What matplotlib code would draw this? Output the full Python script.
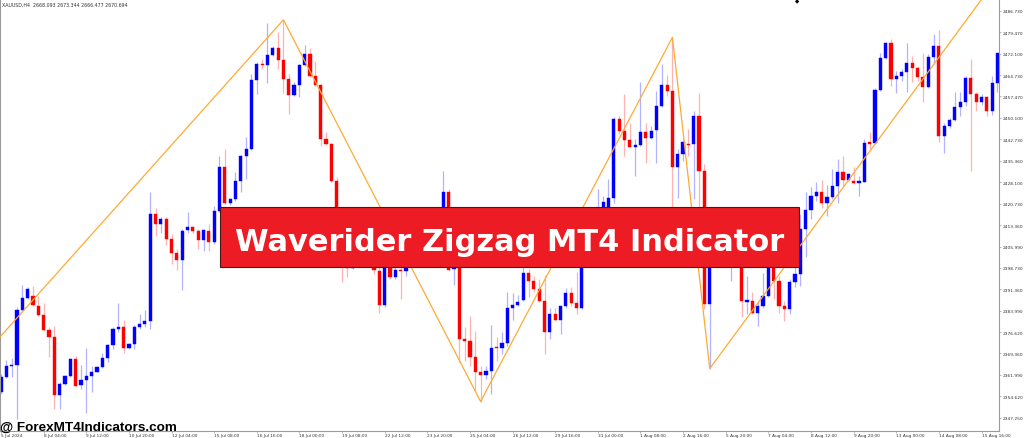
import matplotlib
matplotlib.use("Agg")
import matplotlib.pyplot as plt
from matplotlib.patches import Rectangle

# XAUUSD H4 candles
opens = [2356.2, 2361.4, 2364.9, 2365.4, 2384.3, 2388.3, 2389.0, 2385.8, 2382.4, 2377.5,
         2374.9, 2355.1, 2358.9, 2361.5, 2367.4, 2358.5, 2360.2, 2361.7, 2363.1, 2364.6,
         2367.7, 2372.2, 2377.7, 2378.3, 2371.3, 2372.5, 2378.4, 2379.5, 2380.5, 2417.1,
         2413.9, 2415.6, 2408.6, 2403.8, 2401.5, 2411.6, 2412.6, 2411.2, 2408.3, 2411.4,
         2407.6, 2418.1, 2433.1, 2420.9, 2422.3, 2428.3, 2436.9, 2439.4, 2463.1, 2468.5,
         2468.3, 2471.7, 2474.1, 2470.0, 2463.4, 2458.0, 2461.3, 2468.2, 2472.0, 2464.5,
         2461.3, 2442.8, 2441.1, 2428.5, 2412.0, 2401.0, 2398.7, 2405.1, 2402.4, 2406.8,
         2403.4, 2397.7, 2385.9, 2399.4, 2395.4, 2398.0, 2397.7, 2399.6, 2403.4, 2401.0,
         2405.1, 2402.4, 2406.8, 2412.0, 2424.8, 2398.3, 2398.9, 2374.3, 2373.7, 2368.0,
         2362.9, 2362.0, 2363.4, 2371.4, 2371.1, 2372.9, 2384.8, 2385.9, 2387.6, 2396.8,
         2394.3, 2391.4, 2387.4, 2376.6, 2382.9, 2380.9, 2385.5, 2390.0, 2386.6, 2384.8,
         2414.7, 2417.5, 2415.4, 2419.2, 2417.1, 2422.8, 2449.7, 2445.7, 2442.6, 2440.2,
         2440.8, 2445.1, 2443.1, 2445.9, 2454.2, 2461.3, 2459.2, 2433.1, 2437.7, 2441.1,
         2441.1, 2450.8, 2432.0, 2386.3, 2402.4, 2401.0, 2405.1, 2402.4, 2406.8, 2403.4,
         2387.1, 2387.4, 2383.4, 2385.5, 2389.1, 2401.0, 2394.3, 2385.5, 2384.6, 2393.9,
         2396.6, 2412.0, 2418.6, 2423.4, 2424.6, 2420.9, 2422.9, 2426.6, 2431.4, 2428.9,
         2428.3, 2427.7, 2428.2, 2441.7, 2441.5, 2459.7, 2470.5, 2475.7, 2463.4, 2464.3,
         2465.9, 2468.8, 2467.1, 2464.1, 2460.7, 2470.8, 2474.8, 2444.0, 2447.2, 2449.4,
         2453.7, 2455.7, 2463.6, 2458.3, 2455.6, 2457.3, 2452.3, 2462.0]
highs = [2362.3, 2367.1, 2367.7, 2385.2, 2392.8, 2392.1, 2392.4, 2389.1, 2386.6, 2378.5,
         2378.8, 2359.5, 2361.9, 2367.8, 2368.4, 2365.4, 2371.2, 2365.1, 2365.1, 2369.5,
         2372.6, 2378.3, 2386.6, 2380.9, 2372.9, 2379.1, 2382.9, 2384.3, 2424.6, 2419.1,
         2416.0, 2416.0, 2410.3, 2405.1, 2412.0, 2418.0, 2413.1, 2412.0, 2412.0, 2413.6,
         2420.0, 2437.1, 2439.6, 2422.8, 2431.4, 2437.3, 2443.4, 2465.1, 2469.1, 2470.2,
         2482.6, 2474.8, 2479.4, 2483.7, 2465.1, 2462.3, 2468.5, 2475.0, 2473.9, 2469.7,
         2461.7, 2445.3, 2441.5, 2429.7, 2417.1, 2405.1, 2406.8, 2408.6, 2408.6, 2410.3,
         2405.8, 2400.0, 2401.0, 2403.4, 2401.0, 2403.4, 2403.4, 2406.8, 2408.6, 2406.8,
         2409.2, 2408.6, 2413.7, 2432.0, 2425.7, 2401.7, 2401.0, 2378.3, 2382.3, 2377.1,
         2365.1, 2365.1, 2379.1, 2374.9, 2376.6, 2390.5, 2390.0, 2389.4, 2400.0, 2398.3,
         2396.0, 2394.8, 2396.2, 2385.1, 2384.8, 2385.7, 2391.7, 2392.3, 2397.3, 2418.1,
         2418.5, 2418.8, 2425.7, 2423.4, 2429.1, 2450.3, 2450.8, 2458.2, 2448.5, 2442.8,
         2462.3, 2448.5, 2447.4, 2459.4, 2468.5, 2464.8, 2477.7, 2439.4, 2442.8, 2446.2,
         2452.5, 2458.5, 2434.3, 2403.4, 2406.8, 2408.6, 2407.2, 2408.6, 2410.3, 2405.1,
         2395.9, 2390.3, 2387.3, 2397.1, 2403.4, 2402.4, 2396.0, 2387.4, 2394.8, 2399.4,
         2417.1, 2424.6, 2426.3, 2428.0, 2428.9, 2427.1, 2432.5, 2436.0, 2437.1, 2431.2,
         2433.1, 2430.2, 2442.8, 2445.1, 2460.5, 2472.5, 2476.2, 2477.1, 2466.2, 2466.8,
         2475.7, 2471.4, 2468.0, 2472.5, 2472.0, 2478.8, 2480.2, 2448.5, 2449.9, 2458.8,
         2458.8, 2464.5, 2470.2, 2458.8, 2458.2, 2457.7, 2464.5, 2472.5]
lows = [2355.4, 2360.9, 2361.4, 2346.9, 2383.9, 2388.0, 2385.6, 2382.2, 2377.0, 2368.0,
        2350.5, 2350.5, 2358.5, 2361.2, 2358.1, 2357.1, 2348.9, 2356.0, 2362.9, 2364.3,
        2366.4, 2370.9, 2376.7, 2369.4, 2371.0, 2370.9, 2377.7, 2378.3, 2377.7, 2409.5,
        2410.8, 2406.5, 2400.0, 2398.0, 2391.2, 2410.8, 2410.8, 2405.1, 2404.5, 2404.5,
        2406.8, 2417.7, 2420.5, 2420.2, 2421.7, 2424.8, 2429.1, 2439.2, 2458.2, 2466.8,
        2461.9, 2471.4, 2466.8, 2458.6, 2451.4, 2457.7, 2457.1, 2467.9, 2464.0, 2460.9,
        2440.5, 2440.8, 2428.2, 2409.9, 2393.7, 2395.5, 2398.3, 2401.0, 2401.0, 2401.0,
        2396.6, 2383.4, 2385.2, 2394.8, 2394.8, 2388.0, 2396.0, 2399.3, 2399.7, 2400.0,
        2400.3, 2401.0, 2405.1, 2410.3, 2397.6, 2392.8, 2366.3, 2366.8, 2365.1, 2356.6,
        2352.9, 2360.6, 2355.4, 2366.8, 2369.1, 2372.0, 2380.9, 2385.6, 2387.3, 2388.6,
        2390.3, 2386.9, 2369.1, 2374.3, 2380.6, 2376.0, 2385.1, 2385.7, 2382.9, 2384.6,
        2413.3, 2414.0, 2414.7, 2418.1, 2415.4, 2421.1, 2444.5, 2437.1, 2440.0, 2430.2,
        2440.5, 2434.8, 2442.8, 2434.8, 2453.7, 2457.7, 2419.5, 2422.8, 2435.4, 2437.1,
        2422.3, 2418.8, 2384.6, 2364.2, 2399.7, 2400.0, 2401.0, 2394.3, 2401.7, 2381.7,
        2382.9, 2382.9, 2378.8, 2385.1, 2388.6, 2388.0, 2383.4, 2380.6, 2382.9, 2392.3,
        2392.5, 2402.3, 2415.4, 2421.7, 2419.1, 2416.5, 2422.3, 2420.9, 2426.8, 2428.5,
        2427.4, 2423.4, 2428.0, 2439.4, 2441.1, 2459.4, 2470.2, 2460.9, 2458.6, 2462.8,
        2458.8, 2462.3, 2462.8, 2455.4, 2460.5, 2468.5, 2441.9, 2438.0, 2446.5, 2449.1,
        2450.6, 2454.2, 2432.0, 2452.5, 2454.5, 2450.8, 2451.0, 2459.0]
closes = [2361.4, 2364.9, 2365.4, 2384.3, 2388.3, 2391.3, 2385.9, 2382.4, 2377.5, 2374.9,
          2355.1, 2358.9, 2361.5, 2367.4, 2358.3, 2360.2, 2361.7, 2363.1, 2364.6, 2367.7,
          2372.2, 2377.9, 2378.4, 2371.4, 2372.5, 2378.3, 2379.5, 2380.5, 2417.1, 2413.9,
          2415.6, 2408.6, 2403.8, 2401.5, 2411.4, 2412.6, 2411.2, 2408.3, 2411.6, 2407.6,
          2418.1, 2433.1, 2420.9, 2422.3, 2428.3, 2436.9, 2439.4, 2463.1, 2468.5, 2468.2,
          2471.7, 2474.1, 2470.0, 2463.4, 2458.0, 2461.3, 2468.2, 2472.0, 2464.5, 2461.3,
          2442.8, 2441.1, 2428.5, 2412.0, 2401.0, 2398.6, 2405.1, 2402.4, 2406.8, 2403.4,
          2397.9, 2385.9, 2399.0, 2395.4, 2398.0, 2397.7, 2399.4, 2403.4, 2401.0, 2405.1,
          2402.4, 2406.8, 2412.0, 2424.8, 2398.0, 2398.9, 2374.3, 2373.7, 2368.0, 2362.9,
          2362.0, 2363.4, 2371.4, 2371.1, 2372.9, 2384.8, 2385.9, 2386.9, 2396.8, 2394.3,
          2391.4, 2387.4, 2376.6, 2382.9, 2380.9, 2385.5, 2390.0, 2386.6, 2384.8, 2414.7,
          2417.5, 2415.4, 2419.2, 2421.2, 2422.8, 2449.7, 2445.7, 2442.6, 2440.2, 2440.8,
          2445.1, 2443.1, 2445.7, 2454.2, 2461.3, 2459.2, 2433.1, 2437.7, 2441.7, 2440.8,
          2450.8, 2432.0, 2386.3, 2402.4, 2401.0, 2405.1, 2402.4, 2406.8, 2403.4, 2387.4,
          2387.6, 2383.4, 2385.5, 2389.1, 2401.0, 2394.3, 2385.7, 2384.6, 2393.9, 2396.6,
          2412.0, 2418.6, 2423.4, 2424.6, 2420.9, 2422.9, 2426.6, 2431.4, 2428.9, 2430.8,
          2427.7, 2428.5, 2441.5, 2441.2, 2459.7, 2470.5, 2475.7, 2463.4, 2464.3, 2465.9,
          2468.8, 2467.1, 2464.1, 2460.7, 2470.8, 2474.8, 2444.0, 2447.2, 2449.4, 2453.7,
          2455.7, 2463.6, 2458.3, 2455.6, 2457.3, 2452.3, 2462.0, 2472.3]

# zigzag turning points (bar index, price)
zz_bar = [-5, 53, 90, 126, 133, 187]
zz_price = [2365.2, 2483.7, 2352.9, 2477.7, 2364.2, 2498.1]

price_ticks = [2486.730, 2479.470, 2472.100, 2464.730, 2457.470, 2450.100, 2442.730,
               2435.360, 2428.100, 2420.730, 2413.360, 2405.990, 2398.730, 2391.360,
               2383.990, 2376.620, 2369.360, 2361.990, 2354.620, 2347.250]
time_labels = ["5 Jul 2024", "8 Jul 04:00", "9 Jul 12:00", "10 Jul 20:00", "12 Jul 04:00",
               "15 Jul 08:00", "16 Jul 16:00", "18 Jul 00:00", "19 Jul 08:00", "22 Jul 12:00",
               "23 Jul 20:00", "25 Jul 04:00", "26 Jul 12:00", "29 Jul 16:00", "31 Jul 00:00",
               "1 Aug 08:00", "2 Aug 16:00", "5 Aug 20:00", "7 Aug 04:00", "8 Aug 12:00",
               "9 Aug 20:00", "13 Aug 00:00", "14 Aug 08:00", "15 Aug 16:00"]
header = "XAUUSD,H4  2668.093 2673.344 2666.477 2670.694"

W, H = 1024, 439
fig = plt.figure(figsize=(W / 100, H / 100), dpi=100)
fig.patch.set_facecolor("white")
ax = fig.add_axes([0, (H - 432.3) / H, 999.3 / W, 432.3 / H])

n = len(opens)
x = list(range(n))
up = [c >= o for o, c in zip(opens, closes)]
cols = ["#0000ff" if u else "#ff0000" for u in up]

# wicks
ax.vlines(x, lows, highs, colors=cols, linewidth=0.9, alpha=0.3, zorder=1)
# bodies
bottoms = [min(o, c) for o, c in zip(opens, closes)]
heights = [max(abs(c - o), 0.35) for o, c in zip(opens, closes)]
ax.bar(x, heights, bottom=bottoms, width=0.6, color=cols, edgecolor=cols,
       linewidth=0.3, zorder=2)

# zigzag
ax.plot(zz_bar, zz_price, color="#ffaa33", linewidth=0.9, zorder=3)

ax.set_xlim(-0.19, 187.34)
ax.set_ylim(2342.69, 2490.84)

ax.spines["top"].set_visible(False)
for s in ["left", "right", "bottom"]:
    ax.spines[s].set_color("#9a9a9a")
    ax.spines[s].set_linewidth(0.8)

ax.yaxis.tick_right()
ax.set_yticks(price_ticks)
ax.set_yticklabels([f"{v:.3f}" for v in price_ticks])
ax.tick_params(axis="y", direction="out", length=1.5, width=0.5, colors="#9a9a9a",
               labelcolor="#333333", labelsize=3.2, pad=0.6)
ax.set_xticks([8 * k for k in range(len(time_labels))])
ax.set_xticklabels(time_labels)
ax.tick_params(axis="x", direction="out", length=1.2, width=0.5, colors="#9a9a9a",
               labelcolor="#333333", labelsize=3.1, pad=0.2)
for lab in ax.get_xticklabels():
    lab.set_ha("left")

fig.text(2 / W, 1 - 5 / H, header, fontsize=3.4, color="#333333", va="center")
fig.text(797 / W, 1 - 2 / H, "\u25c6", fontsize=4, color="black", ha="center", va="center")

# banner
fig.add_artist(Rectangle((220 / W, 1 - 267.7 / H), 579.3 / W, 59.4 / H,
                         transform=fig.transFigure, facecolor="#ed1c24",
                         edgecolor="#4a1515", linewidth=0.8, zorder=10))
fig.text(509.5 / W, 1 - 251 / H, "Waverider Zigzag MT4 Indicator", fontsize=22,
         fontweight="bold", family="DejaVu Sans", color="white",
         ha="center", va="baseline", zorder=11)

fig.text(0, 1 - 430.5 / H, "@ ForexMT4Indicators.com", fontsize=9.7, fontweight="bold",
         family="Liberation Sans", color="black", ha="left", va="baseline", zorder=11)

fig.savefig("out.png", dpi=100)
